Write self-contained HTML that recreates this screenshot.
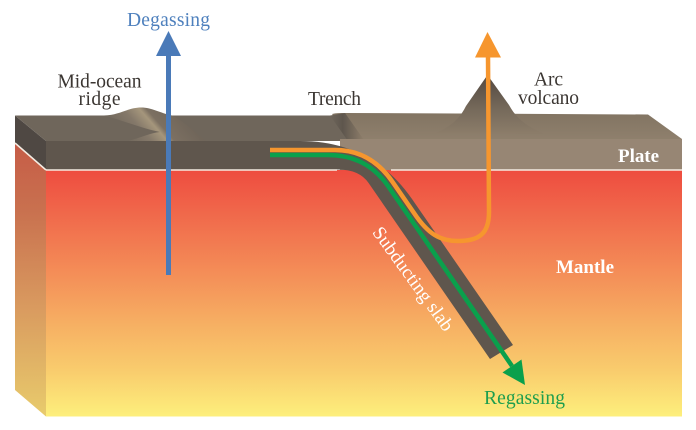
<!DOCTYPE html>
<html>
<head>
<meta charset="utf-8">
<style>
  html, body { margin: 0; padding: 0; background: #ffffff; }
  body { width: 696px; height: 430px; overflow: hidden; font-family: "Liberation Serif", "DejaVu Serif", "Noto Serif CJK SC", serif; }
  svg { display: block; }
  svg text { font-family: "Liberation Serif", "DejaVu Serif", "Noto Serif CJK SC", serif; }
</style>
</head>
<body>
<svg width="696" height="430" viewBox="0 0 696 430" xmlns="http://www.w3.org/2000/svg">
  <defs>
    <linearGradient id="mf" x1="0" y1="170" x2="0" y2="416.5" gradientUnits="userSpaceOnUse">
      <stop offset="0" stop-color="#ee4c3f"/>
      <stop offset="0.163" stop-color="#f0664a"/>
      <stop offset="0.427" stop-color="#f48f58"/>
      <stop offset="0.61" stop-color="#f6ad62"/>
      <stop offset="0.813" stop-color="#f9cc6d"/>
      <stop offset="1" stop-color="#fdef7c"/>
    </linearGradient>
    <linearGradient id="ms" x1="0" y1="143" x2="0" y2="416" gradientUnits="userSpaceOnUse">
      <stop offset="0" stop-color="#c65c47"/>
      <stop offset="0.25" stop-color="#c9714f"/>
      <stop offset="0.6" stop-color="#d99a5f"/>
      <stop offset="1" stop-color="#e8cb6c"/>
    </linearGradient>
    <linearGradient id="tr" x1="0" y1="113" x2="0" y2="140" gradientUnits="userSpaceOnUse">
      <stop offset="0" stop-color="#827462"/>
      <stop offset="1" stop-color="#8f806d"/>
    </linearGradient>
    <linearGradient id="tw" x1="330" y1="0" x2="362" y2="0" gradientUnits="userSpaceOnUse">
      <stop offset="0" stop-color="#6f665b"/>
      <stop offset="0.4" stop-color="#5e564d"/>
      <stop offset="1" stop-color="#8a7b68"/>
    </linearGradient>
    <linearGradient id="rg" x1="126" y1="142" x2="176" y2="98" gradientUnits="userSpaceOnUse">
      <stop offset="0" stop-color="#6f665b"/>
      <stop offset="0.3" stop-color="#85796a"/>
      <stop offset="0.48" stop-color="#a5967c"/>
      <stop offset="0.56" stop-color="#7c7062"/>
      <stop offset="1" stop-color="#6c6257"/>
    </linearGradient>
    <linearGradient id="vg" x1="0" y1="75" x2="0" y2="133" gradientUnits="userSpaceOnUse">
      <stop offset="0" stop-color="#524840"/>
      <stop offset="0.6" stop-color="#766a5b"/>
      <stop offset="1" stop-color="#8b7c69"/>
    </linearGradient>
  </defs>

  <!-- Mantle front face -->
  <rect x="46" y="170" width="636" height="246.5" fill="url(#mf)"/>
  <!-- Mantle side face -->
  <polygon points="15,143 46,170 46,416.5 15,390" fill="url(#ms)"/>
  <!-- Plate side face -->
  <polygon points="15,115.5 46,141 46,170 15,143" fill="#4f4843"/>

  <!-- Plate top surface left (oceanic) -->
  <polygon points="15,115.5 334,115.5 352,141 46,141" fill="#6f665b"/>
  <!-- Plate top surface right (continental) -->
  <path d="M 332 114 C 336 113 340 113 345 113 L 648 114.5 L 682 139 L 350 140 Z" fill="url(#tr)"/>
  <!-- Trench slope -->
  <polygon points="330,115.5 345,113 364,140 348,141" fill="url(#tw)"/>
  <!-- Plate front face right -->
  <rect x="340" y="139" width="342" height="31" fill="#978674"/>

  <!-- Mid-ocean ridge -->
  <path d="M 104 115.5 C 120 115 128 107.5 141 107.5 C 152 107.5 160 113 172 115.5 C 185 122 195 132 206 141 L 128 141 C 140 138 150 133 160 132 C 140 128 122 120 104 115.5 Z" fill="url(#rg)"/>

  <!-- Arc volcano -->
  <path d="M 436 133 C 452 126 460 118 466 106 L 487.5 75 L 509 105 C 516 118 526 126 544 134 Z" fill="url(#vg)"/>

  <!-- Subducting slab + oceanic plate front face -->
  <path d="M 46 141 L 300 141 Q 372 141 412 199 L 513 345 L 490 359 L 368.6 183 Q 359.3 169.5 338 169.5 L 46 169.5 Z" fill="#5f564d"/>

  <!-- White boundary lines plate/mantle -->
  <line x1="46" y1="170" x2="337" y2="170" stroke="#f4ece2" stroke-width="1.6"/>
  <line x1="391" y1="170" x2="682" y2="170" stroke="#f4ece2" stroke-width="1.6"/>
  <line x1="15" y1="143" x2="46" y2="170" stroke="#f4ece2" stroke-width="1.6"/>

  <!-- Green regassing path -->
  <path d="M 270 155 H 328 Q 366.7 155 388 186 L 512 366" fill="none" stroke="#0aa04c" stroke-width="4.5"/>
  <polygon points="521.5,359.5 502.5,372.5 525,385" fill="#0aa04c"/>

  <!-- Orange path -->
  <path d="M 270 150 H 335 Q 370.7 150 392.6 182 L 414 213 C 428 234 440 241 458 241 C 480 241 489 233 489 212 L 488 56" fill="none" stroke="#f6962e" stroke-width="4.5"/>
  <polygon points="475,57.5 501,57.5 487.5,32" fill="#f6962e"/>

  <!-- Blue degassing arrow -->
  <rect x="166" y="53" width="5" height="222" fill="#4a7ab8"/>
  <polygon points="156,56 181,56 168.5,31" fill="#4a7ab8"/>

  <!-- Labels -->
  <text x="168.5" y="26" font-size="19.5" fill="#4e80bd" text-anchor="middle" textLength="83">Degassing</text>
  <text x="99.5" y="87.5" font-size="19.5" fill="#3b3632" text-anchor="middle" textLength="84">Mid-ocean</text>
  <text x="99.5" y="105" font-size="19.5" fill="#3b3632" text-anchor="middle" textLength="42">ridge</text>
  <text x="334.5" y="105" font-size="19.5" fill="#3b3632" text-anchor="middle" textLength="53">Trench</text>
  <text x="548.5" y="85.5" font-size="19.5" fill="#3b3632" text-anchor="middle" textLength="29">Arc</text>
  <text x="548.5" y="104" font-size="19.5" fill="#3b3632" text-anchor="middle" textLength="61">volcano</text>
  <text x="638.5" y="162" font-size="19" font-weight="bold" fill="#ffffff" text-anchor="middle" textLength="41">Plate</text>
  <text x="585" y="273" font-size="19" font-weight="bold" fill="#ffffff" text-anchor="middle" textLength="58">Mantle</text>
  <text x="524.5" y="404" font-size="19.5" fill="#1e9e4e" text-anchor="middle" textLength="81">Regassing</text>
  <text transform="translate(413,279) rotate(54)" x="0" y="6" font-size="19" fill="#ffffff" text-anchor="middle" textLength="124">Subducting slab</text>
</svg>
</body>
</html>
